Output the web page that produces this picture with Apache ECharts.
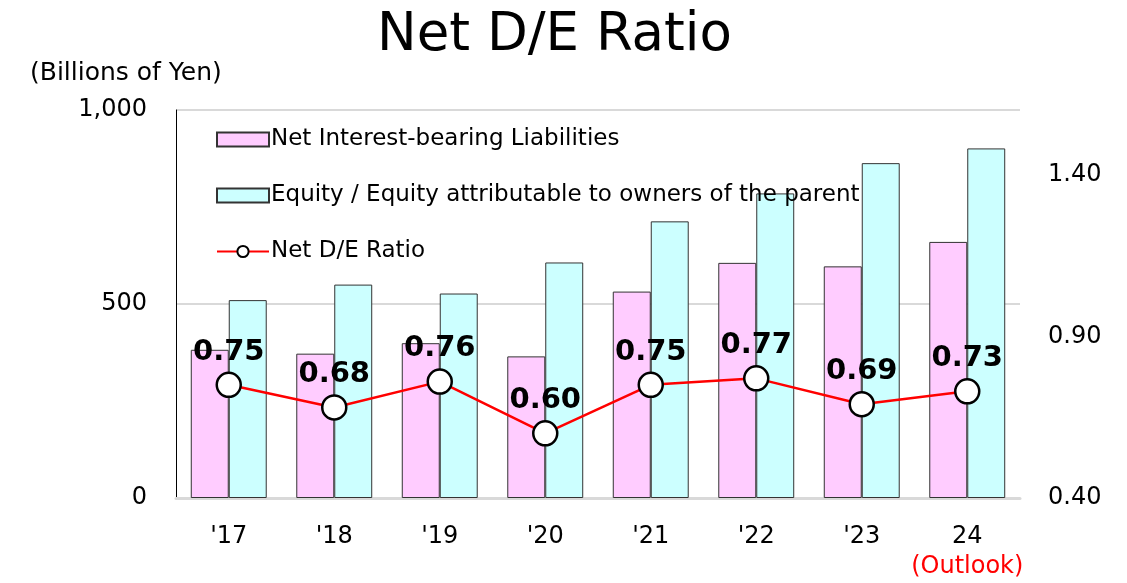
<!DOCTYPE html>
<html>
<head>
<meta charset="utf-8">
<script src="https://cdn.jsdelivr.net/npm/echarts@6/dist/echarts.min.js"></script>
<style>
  html, body { margin: 0; padding: 0; background: #fff; }
  #chart { width: 1127px; height: 583px; }
</style>
</head>
<body>
<div id="chart"></div>
<script>
// 年度（'24は見通し）
const years = ["'17", "'18", "'19", "'20", "'21", "'22", "'23", '24']
// 純有利子負債（十億円）
const netDebt = [382, 372, 399, 365, 532, 606, 597, 660]
// 資本（十億円）
const equity = [510, 550, 527, 607, 713, 785, 863, 901]
// ネットD/Eレシオ
const deRatio = [0.75, 0.68, 0.76, 0.60, 0.75, 0.77, 0.69, 0.73]
// 軸ラベル
const leftTicks = [0, 500, 1000]
const rightTicks = [0.40, 0.90, 1.40]

const font = '"DejaVu Sans", Verdana, sans-serif'
const chart = echarts.init(document.getElementById('chart'))

const option = {
  animation: false,
  textStyle: { fontFamily: font, color: '#000' },
  title: [
    {
      text: 'Net D/E Ratio',
      left: 372,
      top: 5,
      textStyle: { fontSize: 53, fontWeight: 'normal', color: '#000', fontFamily: font }
    },
    {
      text: '(Billions of Yen)',
      left: 25,
      top: 56,
      textStyle: { fontSize: 25, fontWeight: 'normal', color: '#000', fontFamily: font }
    }
  ],
  grid: { left: 176, right: 107, top: 110, bottom: 85 },
  legend: {
    orient: 'vertical',
    left: 211,
    top: 123,
    itemWidth: 52,
    itemHeight: 14,
    itemGap: 33,
    textStyle: { fontSize: 23, color: '#000', fontFamily: font, padding: [0, 0, 0, -3] },
    data: [
      { name: 'Net Interest-bearing Liabilities', icon: 'rect' },
      { name: 'Equity / Equity attributable to owners of the parent', icon: 'rect' },
      { name: 'Net D/E Ratio' }
    ]
  },
  xAxis: {
    type: 'category',
    data: years,
    axisLine: { lineStyle: { color: '#d9d9d9', width: 3 } },
    axisTick: { show: false },
    axisLabel: {
      interval: 0,
      margin: 27,
      fontSize: 24,
      color: '#000',
      formatter: function (v) {
        return v === '24' ? v + '\n{o|(Outlook)}' : v
      },
      rich: {
        o: { fontSize: 24, color: '#ff0000', fontFamily: font, padding: [6, 0, 0, 0] }
      }
    }
  },
  yAxis: [
    {
      type: 'value',
      min: 0,
      max: 1000,
      interval: 500,
      axisLine: { show: true, lineStyle: { color: '#000', width: 1 } },
      axisTick: { show: false },
      splitLine: { lineStyle: { color: '#d9d9d9', width: 2 } },
      axisLabel: {
        margin: 29,
        fontSize: 24,
        color: '#000',
        formatter: function (v) {
          return leftTicks.indexOf(v) >= 0 ? v.toLocaleString('en-US') : ''
        }
      }
    },
    {
      type: 'value',
      min: 0.4,
      max: 1.6,
      interval: 0.1,
      axisLine: { show: false },
      axisTick: { show: false },
      splitLine: { show: false },
      axisLabel: {
        margin: 28,
        fontSize: 24,
        color: '#000',
        formatter: function (v) {
          const hit = rightTicks.find(t => Math.abs(t - v) < 1e-6)
          return hit !== undefined ? hit.toFixed(2) : ''
        }
      }
    }
  ],
  series: [
    {
      name: 'Net Interest-bearing Liabilities',
      type: 'bar',
      data: netDebt,
      barGap: '0%',
      barCategoryGap: '28%',
      itemStyle: { color: '#ffccff', borderColor: '#333', borderWidth: 1 }
    },
    {
      name: 'Equity / Equity attributable to owners of the parent',
      type: 'bar',
      data: equity,
      itemStyle: { color: '#ccffff', borderColor: '#333', borderWidth: 1 }
    },
    {
      name: 'Net D/E Ratio',
      type: 'line',
      yAxisIndex: 1,
      data: deRatio,
      z: 5,
      symbol: 'circle',
      symbolSize: 24,
      lineStyle: { color: '#ff0000', width: 2.5 },
      itemStyle: { color: '#fff', borderColor: '#000', borderWidth: 2.5 },
      label: {
        show: true,
        position: 'top',
        distance: 5,
        fontSize: 29,
        fontWeight: 'bold',
        color: '#000',
        formatter: function (p) { return p.value.toFixed(2) }
      }
    }
  ]
}

chart.setOption(option)
</script>
</body>
</html>
